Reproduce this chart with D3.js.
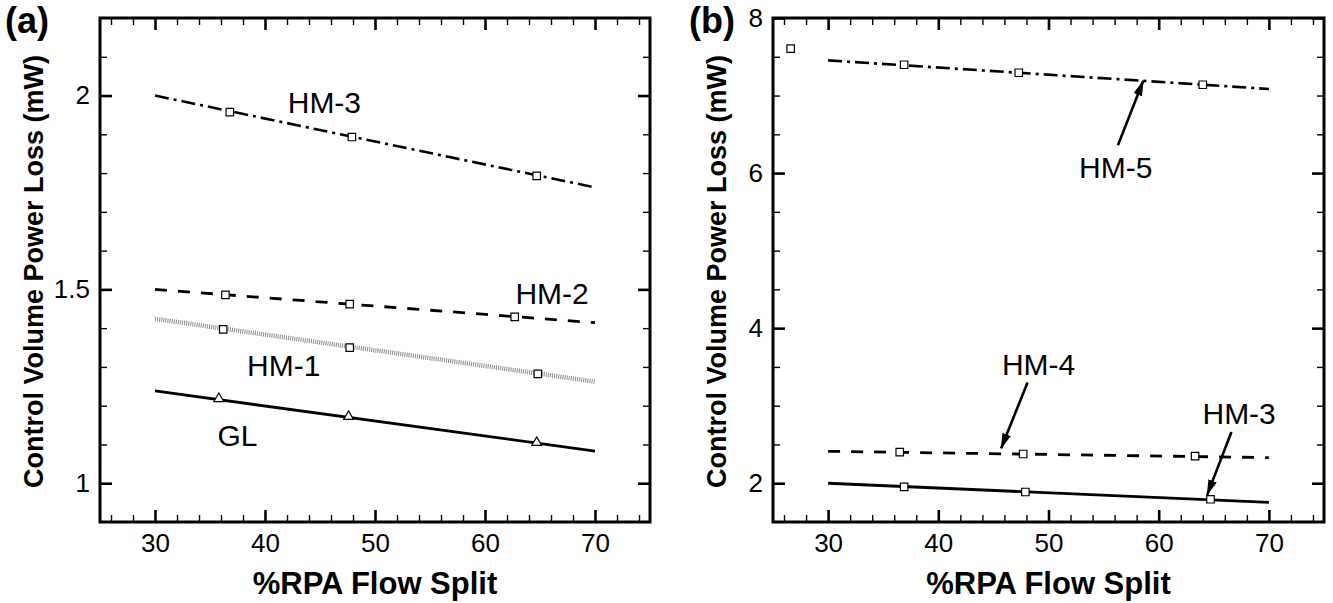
<!DOCTYPE html>
<html>
<head>
<meta charset="utf-8">
<script src="https://cdn.jsdelivr.net/npm/d3@7"></script>
<style>
  body { margin: 0; background: #fff; }
  svg { display: block; }
  text { font-family: "Liberation Sans", Arial, Helvetica, sans-serif; fill: #000; }
</style>
</head>
<body>
<svg id="chart" width="1333" height="603"></svg>
<script>
// ---------------- DATA ----------------
const fitX = [30, 70];                       // x extent of fitted lines
const xTickValues = [30, 40, 50, 60, 70];
const xTickLabels = ["30", "40", "50", "60", "70"];

// Panel (a)
const aYTickValues = [1, 1.5, 2];
const aYTickLabels = ["1", "1.5", "2"];
const aGLx  = [35.8, 47.6, 64.7];
const aGLy  = [1.218, 1.172, 1.105];
const aGLfit = [1.238, 1.083];
const aHM1x = [36.2, 47.7, 64.8];
const aHM1y = [1.397, 1.350, 1.282];
const aHM1fit = [1.424, 1.262];
const aHM2x = [36.4, 47.7, 62.7];
const aHM2y = [1.486, 1.462, 1.429];
const aHM2fit = [1.500, 1.414];
const aHM3x = [36.8, 47.9, 64.7];
const aHM3y = [1.957, 1.893, 1.793];
const aHM3fit = [2.000, 1.763];

// Panel (b)
const bYTickValues = [2, 4, 6, 8];
const bYTickLabels = ["2", "4", "6", "8"];
const bHM3x = [36.9, 47.9, 64.7];
const bHM3y = [1.952, 1.887, 1.793];
const bHM3fit = [2.000, 1.752];
const bHM4x = [36.5, 47.7, 63.3];
const bHM4y = [2.400, 2.377, 2.350];
const bHM4fit = [2.412, 2.330];
const bHM5x = [26.6, 36.9, 47.3, 64.0];
const bHM5y = [7.604, 7.397, 7.294, 7.139];
const bHM5fit = [7.453, 7.084];

// Annotation texts (data coordinates)
const aLabels = [
  { text: "HM-3", x: 45.4, y: 1.983 },
  { text: "HM-2", x: 66.1, y: 1.490 },
  { text: "HM-1", x: 41.7, y: 1.305 },
  { text: "GL",   x: 37.5, y: 1.125 }
];
const bLabels = [
  { text: "HM-5", x: 56.1, y: 6.07 },
  { text: "HM-4", x: 49.1, y: 3.53 },
  { text: "HM-3", x: 67.3, y: 2.90 }
];
const bArrows = [
  { x1: 56.3, y1: 6.36, x2: 58.6, y2: 7.19 },
  { x1: 48.1, y1: 3.30, x2: 45.7, y2: 2.45 },
  { x1: 66.6, y1: 2.66, x2: 64.4, y2: 1.85 }
];

// ---------------- DRAW ----------------
const svg = d3.select("#chart");

svg.append("defs").append("marker")
  .attr("id", "arrow")
  .attr("markerUnits", "userSpaceOnUse")
  .attr("viewBox", "0 0 16 9")
  .attr("refX", 15).attr("refY", 4.5)
  .attr("markerWidth", 16).attr("markerHeight", 9)
  .attr("orient", "auto")
  .append("path").attr("d", "M0,0 L16,4.5 L0,9 Z").attr("fill", "#000");

const styles = {
  solid:   { dash: null,          width: 2.8, color: "#000" },
  dashed:  { dash: "12,11",       width: 2.8, color: "#000" },
  dashdot: { dash: "14,5,3,5",    width: 2.6, color: "#000" },
  dotted:  { dash: "1,1.1",       width: 4.5, color: "#8a8a8a" }
};

function panel(cfg) {
  const x = d3.scaleLinear().domain([25, 75]).range([cfg.left, cfg.right]);
  const y = d3.scaleLinear().domain(cfg.yDomain).range([cfg.bottom, cfg.top]);
  const g = svg.append("g");

  const xMinor = d3.range(26, 75, 2).filter(v => v % 10 !== 0);
  const yMinor = cfg.yMinor;

  function styleAxis(sel, w) {
    sel.select(".domain").remove();
    sel.selectAll(".tick line").attr("stroke", "#000").attr("stroke-width", w);
    sel.selectAll(".tick text").style("font-size", "26px")
      .style("font-family", "'Liberation Sans', Arial, sans-serif").attr("fill", "#000");
  }

  // bottom
  g.append("g").attr("transform", `translate(0,${cfg.bottom})`)
    .call(d3.axisBottom(x).tickValues(xTickValues).tickFormat((d, i) => xTickLabels[i])
      .tickSizeInner(-12).tickSizeOuter(0).tickPadding(12))
    .call(s => styleAxis(s, 2.6));
  g.append("g").attr("transform", `translate(0,${cfg.bottom})`)
    .call(d3.axisBottom(x).tickValues(xMinor).tickFormat("").tickSizeInner(-7).tickSizeOuter(0))
    .call(s => styleAxis(s, 1.4));
  // top
  g.append("g").attr("transform", `translate(0,${cfg.top})`)
    .call(d3.axisTop(x).tickValues(xTickValues).tickFormat("").tickSizeInner(-12).tickSizeOuter(0))
    .call(s => styleAxis(s, 2.6));
  g.append("g").attr("transform", `translate(0,${cfg.top})`)
    .call(d3.axisTop(x).tickValues(xMinor).tickFormat("").tickSizeInner(-7).tickSizeOuter(0))
    .call(s => styleAxis(s, 1.4));
  // left
  g.append("g").attr("transform", `translate(${cfg.left},0)`)
    .call(d3.axisLeft(y).tickValues(cfg.yTicks).tickFormat((d, i) => cfg.yLabels[i])
      .tickSizeInner(-12).tickSizeOuter(0).tickPadding(10))
    .call(s => styleAxis(s, 2.6));
  g.append("g").attr("transform", `translate(${cfg.left},0)`)
    .call(d3.axisLeft(y).tickValues(yMinor).tickFormat("").tickSizeInner(-7).tickSizeOuter(0))
    .call(s => styleAxis(s, 1.4));
  // right
  g.append("g").attr("transform", `translate(${cfg.right},0)`)
    .call(d3.axisRight(y).tickValues(cfg.yTicks).tickFormat("").tickSizeInner(-12).tickSizeOuter(0))
    .call(s => styleAxis(s, 2.6));
  g.append("g").attr("transform", `translate(${cfg.right},0)`)
    .call(d3.axisRight(y).tickValues(yMinor).tickFormat("").tickSizeInner(-7).tickSizeOuter(0))
    .call(s => styleAxis(s, 1.4));

  // frame
  g.append("rect")
    .attr("x", cfg.left).attr("y", cfg.top)
    .attr("width", cfg.right - cfg.left).attr("height", cfg.bottom - cfg.top)
    .attr("fill", "none").attr("stroke", "#000").attr("stroke-width", 3);

  // series
  const line = d3.line().x(d => x(d[0])).y(d => y(d[1]));
  cfg.series.forEach(s => {
    const st = styles[s.style];
    g.append("path")
      .attr("d", line(fitX.map((v, i) => [v, s.fit[i]])))
      .attr("fill", "none").attr("stroke", st.color)
      .attr("stroke-width", st.width)
      .attr("stroke-dasharray", st.dash);
    const sym = d3.symbol().type(s.marker === "tri" ? d3.symbolTriangle : d3.symbolSquare)
      .size(s.marker === "tri" ? 42 : 56);
    g.selectAll(null).data(s.xs.map((v, i) => [v, s.ys[i]])).enter()
      .append("path")
      .attr("d", sym)
      .attr("transform", d => `translate(${x(d[0])},${y(d[1])})`)
      .attr("fill", "#fff").attr("stroke", "#000").attr("stroke-width", 1.2);
  });

  // arrows
  (cfg.arrows || []).forEach(a => {
    g.append("line")
      .attr("x1", x(a.x1)).attr("y1", y(a.y1))
      .attr("x2", x(a.x2)).attr("y2", y(a.y2))
      .attr("stroke", "#000").attr("stroke-width", 2.6)
      .attr("marker-end", "url(#arrow)");
  });

  // annotation labels
  g.selectAll(null).data(cfg.labels).enter().append("text")
    .attr("x", d => x(d.x)).attr("y", d => y(d.y))
    .attr("dy", "0.36em")
    .attr("text-anchor", "middle")
    .style("font-size", "30px")
    .text(d => d.text);

  // axis titles
  g.append("text")
    .attr("x", (cfg.left + cfg.right) / 2).attr("y", 594)
    .attr("text-anchor", "middle")
    .style("font-size", "31px").style("font-weight", "bold")
    .text("%RPA Flow Split");
  g.append("text")
    .attr("transform", `translate(${cfg.titleX},488) rotate(-90)`)
    .attr("text-anchor", "start")
    .style("font-size", "27px").style("font-weight", "bold")
    .text("Control Volume Power Loss (mW)");

  // panel letter
  g.append("text")
    .attr("x", cfg.letterX).attr("y", 33)
    .style("font-size", "36px").style("font-weight", "bold")
    .text(cfg.letter);
}

panel({
  letter: "(a)", letterX: 5, titleX: 43,
  left: 100, right: 650, top: 18, bottom: 522,
  yDomain: [0.9, 2.2],
  yTicks: aYTickValues, yLabels: aYTickLabels,
  yMinor: d3.range(10, 22).filter(v => v !== 10 && v !== 15 && v !== 20).map(v => v / 10),
  series: [
    { xs: aHM3x, ys: aHM3y, fit: aHM3fit, style: "dashdot", marker: "sq" },
    { xs: aHM2x, ys: aHM2y, fit: aHM2fit, style: "dashed",  marker: "sq" },
    { xs: aHM1x, ys: aHM1y, fit: aHM1fit, style: "dotted",  marker: "sq" },
    { xs: aGLx,  ys: aGLy,  fit: aGLfit,  style: "solid",   marker: "tri" }
  ],
  labels: aLabels
});

panel({
  letter: "(b)", letterX: 689, titleX: 726,
  left: 773, right: 1324, top: 18, bottom: 522,
  yDomain: [1.5, 8],
  yTicks: bYTickValues, yLabels: bYTickLabels,
  yMinor: d3.range(5, 16).filter(v => v % 4 !== 0).map(v => v / 2),
  series: [
    { xs: bHM5x, ys: bHM5y, fit: bHM5fit, style: "dashdot", marker: "sq" },
    { xs: bHM4x, ys: bHM4y, fit: bHM4fit, style: "dashed",  marker: "sq" },
    { xs: bHM3x, ys: bHM3y, fit: bHM3fit, style: "solid",   marker: "sq" }
  ],
  labels: bLabels,
  arrows: bArrows
});
</script>
</body>
</html>
